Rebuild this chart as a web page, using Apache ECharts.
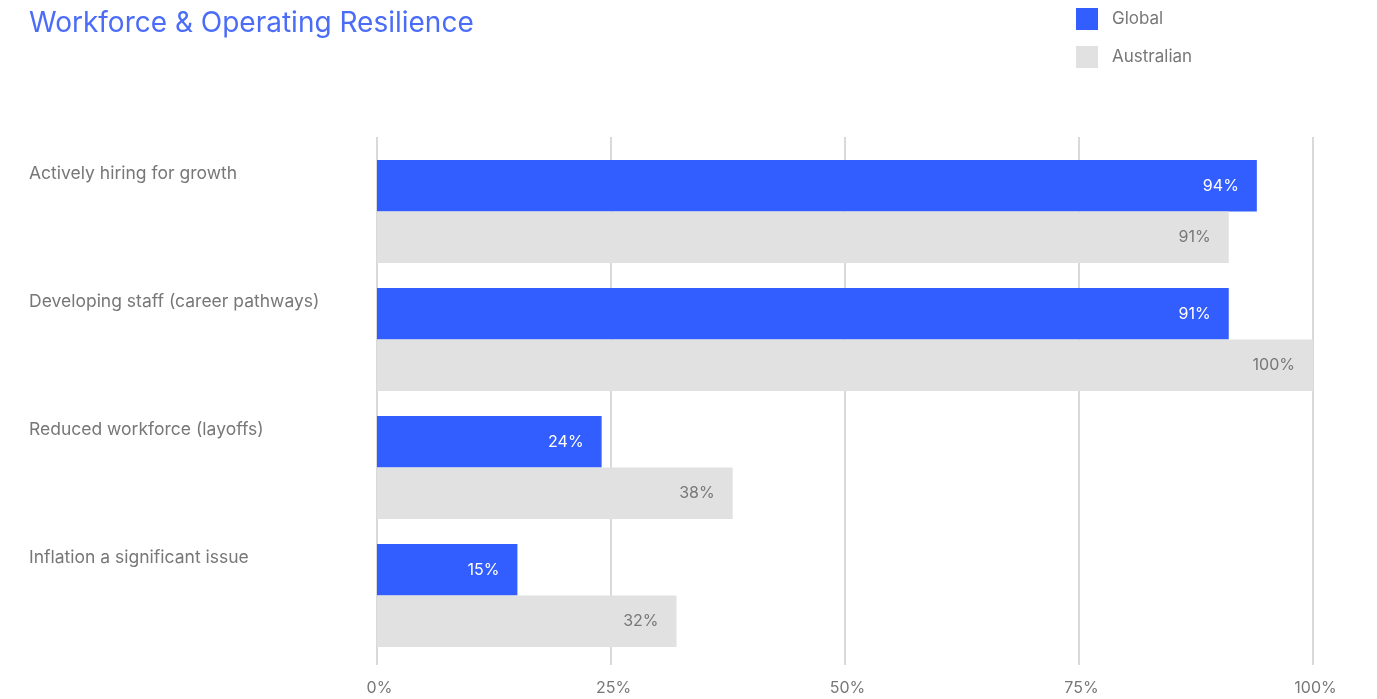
<!DOCTYPE html>
<html>
<head>
<meta charset="utf-8">
<title>Workforce &amp; Operating Resilience</title>
<script src="https://cdn.jsdelivr.net/npm/echarts@6/dist/echarts.min.js"></script>
<style>
  html, body { margin: 0; padding: 0; background: #ffffff; }
  #chart { width: 1377px; height: 699px; }
</style>
</head>
<body>
<div id="chart"></div>
<script>
// Survey measures, listed top to bottom
const categories = [
  'Actively hiring for growth',
  'Developing staff (career pathways)',
  'Reduced workforce (layoffs)',
  'Inflation a significant issue'
];
// Share of respondents, percent
const globalValues = [94, 91, 24, 15];
const australianValues = [91, 100, 38, 32];
// Value axis ticks, percent
const tickValues = [0, 25, 50, 75, 100];

const FONT = 'Inter, "Noto Sans", sans-serif';
const GREY_TEXT = '#777777';
const BLUE = '#335eff';
const LIGHT = '#e1e1e1';

const chart = echarts.init(document.getElementById('chart'));

chart.setOption({
  animation: false,
  backgroundColor: '#ffffff',
  textStyle: { fontFamily: FONT },
  title: {
    text: 'Workforce & Operating Resilience',
    left: 29,
    top: 10,
    padding: 0,
    textStyle: { fontFamily: FONT, fontSize: 28, fontWeight: 'normal', color: '#4a6cf7' }
  },
  legend: {
    orient: 'vertical',
    left: 1076,
    top: 8,
    padding: 0,
    itemWidth: 22,
    itemHeight: 22,
    itemGap: 16,
    icon: 'rect',
    textStyle: { fontFamily: FONT, fontSize: 17, color: GREY_TEXT, padding: [1, 0, 0, 9] },
    data: ['Global', 'Australian']
  },
  grid: [
    // grid carrying the tall vertical guide lines and percentage ticks
    { left: 377, right: 64, top: 137, bottom: 34 },
    // grid carrying the bars
    { left: 377, right: 64, top: 147.5, height: 512 }
  ],
  xAxis: [
    {
      gridIndex: 0,
      type: 'value',
      min: tickValues[0],
      max: tickValues[tickValues.length - 1],
      interval: tickValues[1] - tickValues[0],
      axisLine: { show: false },
      axisTick: { show: false },
      splitLine: { show: true, lineStyle: { color: '#d9d9d9', width: 2 } },
      axisLabel: {
        formatter: '{v|{value}%}',
        margin: 15,
        fontFamily: FONT,
        fontSize: 16,
        color: GREY_TEXT,
        rich: { v: { fontFamily: FONT, fontSize: 16, color: GREY_TEXT, padding: [0, 0, 0, 5] } }
      }
    },
    {
      gridIndex: 1,
      type: 'value',
      min: tickValues[0],
      max: tickValues[tickValues.length - 1],
      show: false,
      splitLine: { show: false }
    }
  ],
  yAxis: [
    {
      gridIndex: 0,
      type: 'value',
      show: false,
      splitLine: { show: false }
    },
    {
      gridIndex: 1,
      type: 'category',
      inverse: true,
      data: categories,
      axisLine: { show: false },
      axisTick: { show: false },
      splitLine: { show: false },
      axisLabel: {
        align: 'left',
        margin: 348,
        verticalAlign: 'middle',
        formatter: (name) => '{t|' + name + '}',
        rich: {
          t: { fontFamily: FONT, fontSize: 17.5, color: GREY_TEXT, padding: [0, 0, 76, 0] }
        }
      }
    }
  ],
  series: [
    {
      name: 'Global',
      type: 'bar',
      xAxisIndex: 1,
      yAxisIndex: 1,
      data: globalValues,
      barGap: '0%',
      barCategoryGap: '19.5%',
      itemStyle: { color: BLUE },
      label: {
        show: true,
        position: 'insideRight',
        distance: 18,
        formatter: '{c}%',
        fontFamily: FONT,
        fontSize: 16,
        color: '#ffffff'
      }
    },
    {
      name: 'Australian',
      type: 'bar',
      xAxisIndex: 1,
      yAxisIndex: 1,
      data: australianValues,
      barGap: '0%',
      barCategoryGap: '19.5%',
      itemStyle: { color: LIGHT },
      label: {
        show: true,
        position: 'insideRight',
        distance: 18,
        formatter: '{c}%',
        fontFamily: FONT,
        fontSize: 16,
        color: GREY_TEXT
      }
    }
  ]
});
</script>
</body>
</html>
